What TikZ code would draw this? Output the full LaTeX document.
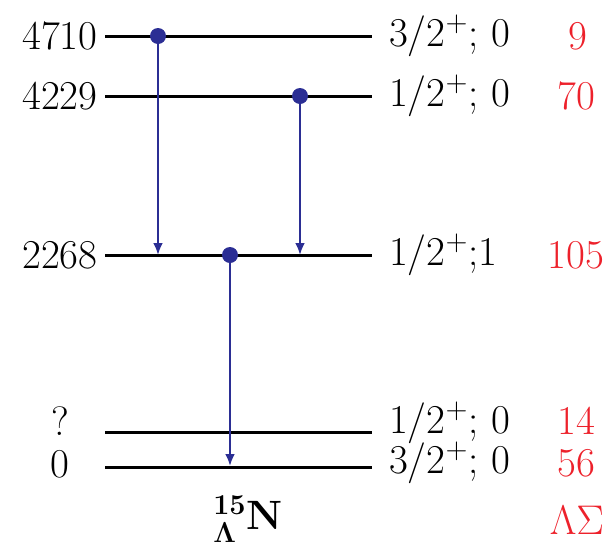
\documentclass[tikz,border=0pt]{standalone}
\usepackage{amsmath,amssymb}
\usepackage{xcolor}
\usetikzlibrary{arrows.meta,positioning}
\definecolor{trblue}{rgb}{0.17,0.18,0.58}
\definecolor{yieldred}{rgb}{0.93,0.13,0.17}

\begin{document}
\begin{tikzpicture}[x=0.5pt, y=-0.5pt,
      lvl/.style={line width=1.5pt, black},
      dot/.style={circle, fill=trblue, inner sep=0pt, minimum size=8pt},
      arr/.style={-{Latex[length=6pt,width=5pt]}, line width=1.3pt, color=trblue},
      en/.style={font=\fontsize{20.5}{25}\selectfont, anchor=center},
      jt/.style={font=\fontsize{20.5}{25}\selectfont, anchor=west},
      yld/.style={font=\fontsize{20.5}{25}\selectfont, text=yieldred, anchor=center}
  ]
    \useasboundingbox (0,0) rectangle (606,547);
    % levels
    \coordinate (a1) at (105,36);  \coordinate (b1) at (372,36);
    \coordinate (a2) at (105,96);  \coordinate (b2) at (372,96);
    \coordinate (a3) at (105,255); \coordinate (b3) at (372,255);
    \coordinate (a4) at (105,432); \coordinate (b4) at (372,432);
    \coordinate (a5) at (105,467); \coordinate (b5) at (372,467);
    \foreach \i in {1,...,5} \draw[lvl] (a\i) -- (b\i);
    % energies
    \node[en] (e1) at (60,36) {4710};
    \node[en] (e2) at (60,96) {4229};
    \node[en] (e3) at (60,255) {2268};
    \node[en] (e4) at (60,421) {?};
    \node[en] (e5) at (60,464) {0};
    % spins
    \node[jt] (j1) at (382,36) {3/2$^+$; 0};
    \node[jt] (j2) at (382,96) {1/2$^+$; 0};
    \node[jt] (j3) at (382,255) {1/2$^+$;1};
    \node[jt] (j4) at (382,423) {1/2$^+$; 0};
    \node[jt] (j5) at (382,463) {3/2$^+$; 0};
    % yields
    \node[yld] (y1) at (578,36) {9};
    \node[yld] (y2) at (576,96) {70};
    \node[yld] (y3) at (576,255) {105};
    \node[yld] (y4) at (576,421) {14};
    \node[yld] (y5) at (576,463) {56};
    % transitions
    \node[dot] (d1) at (158,36) {};
    \node[dot] (d2) at (300,96) {};
    \node[dot] (d3) at (230,255) {};
    \coordinate (t1) at (158,255);
    \coordinate (t2) at (300,255);
    \coordinate (t3) at (230,466);
    \draw[arr] (d1.center) -- (t1);
    \draw[arr] (d2.center) -- (t2);
    \draw[arr] (d3.center) -- (t3);
    % labels
    \node[en] (nuc) at (248,519) {\textbf{\boldmath$^{15}_{\Lambda}$N}};
    \node[yld] (ls) at (577,520) {$\Lambda\Sigma$};
  \end{tikzpicture}
\end{document}
